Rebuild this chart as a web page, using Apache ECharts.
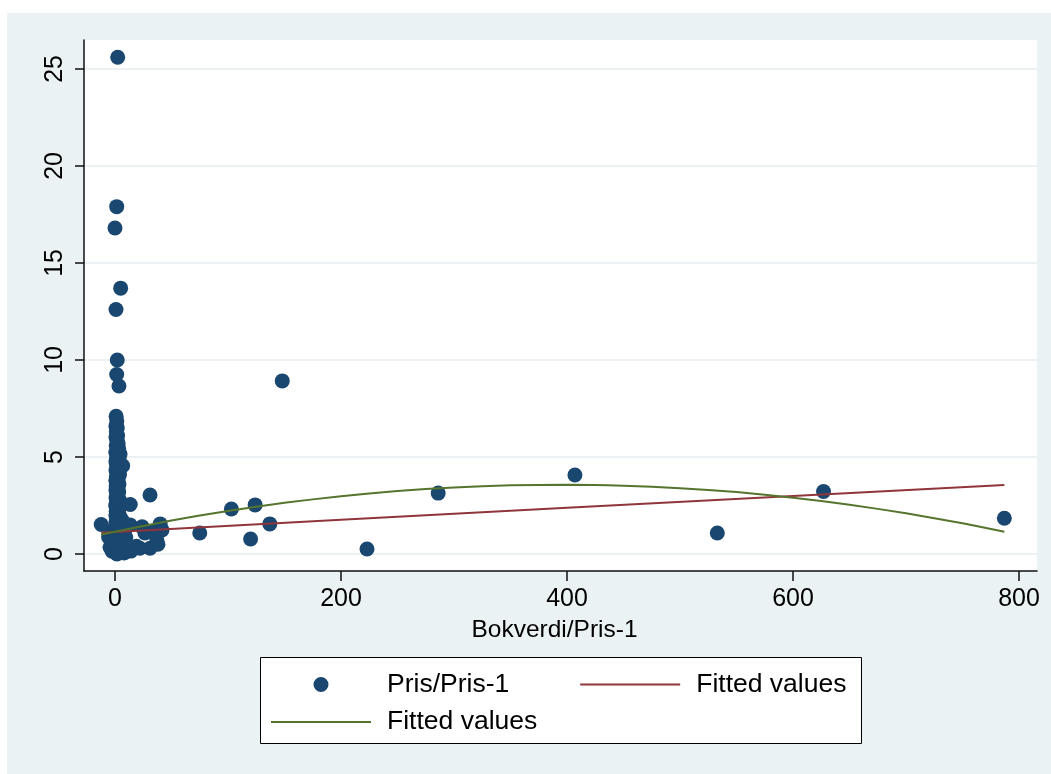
<!DOCTYPE html>
<html>
<head>
<meta charset="utf-8">
<script src="https://cdn.jsdelivr.net/npm/echarts@6/dist/echarts.min.js"></script>
<style>
html, body { margin: 0; padding: 0; background: #ffffff; }
#chart { width: 1051px; height: 774px; }
</style>
</head>
<body>
<div id="chart"></div>
<script>
// ---- data ----
const xTicks = [0, 200, 400, 600, 800];
const yTicks = [0, 5, 10, 15, 20, 25];
const xTitle = 'Bokverdi/Pris-1';
const scatterName = 'Pris/Pris-1';
const linFitName = 'Fitted values (linear)';
const quadFitName = 'Fitted values (quadratic)';
const fitLegendLabel = 'Fitted values';

// isolated points (Bokverdi/Pris-1, Pris/Pris-1)
const prisOutliers = [
  [2.4, 25.6], [1.5, 17.9], [0.0, 16.8], [5.0, 13.7], [0.9, 12.6], [2.0, 10.0],
  [1.5, 9.25], [3.5, 8.66], [148, 8.92], [407, 4.07], [286, 3.14], [627, 3.22],
  [787, 1.84], [533, 1.08], [223, 0.26], [137, 1.55], [124, 2.53], [103, 2.32],
  [120, 0.77], [75, 1.08], [31, 3.04], [40, 1.55], [13.5, 2.55], [-12.2, 1.52]
];
// dense column of observations near zero
const prisColumn = [
  [1.0, 7.1], [1.6, 6.85], [0.8, 6.6], [2.0, 6.5], [1.2, 6.3], [2.3, 6.1], [0.9, 6.0],
  [1.8, 5.85], [2.8, 5.7], [1.1, 5.6], [3.2, 5.45], [2.0, 5.35], [0.7, 5.25], [4.5, 5.15],
  [2.6, 5.05], [1.3, 4.95], [3.6, 4.85], [0.8, 4.75], [2.2, 4.65], [6.8, 4.55], [1.5, 4.5],
  [3.0, 4.4], [0.9, 4.3], [2.4, 4.2], [4.0, 4.1], [1.2, 4.0], [2.9, 3.9], [0.7, 3.8],
  [1.9, 3.7], [3.5, 3.6], [1.0, 3.5], [2.5, 3.4], [0.8, 3.3], [3.3, 3.2], [1.6, 3.1],
  [2.2, 3.0], [0.9, 2.9], [3.7, 2.8], [1.4, 2.7], [2.7, 2.6], [0.6, 2.5], [2.0, 2.4],
  [3.4, 2.3], [1.1, 2.2], [2.6, 2.1], [0.8, 2.0], [4.2, 1.95], [1.7, 1.9], [3.0, 1.8],
  [1.0, 1.7], [2.3, 1.6], [0.7, 1.5], [3.8, 1.45], [1.5, 1.4], [2.8, 1.3], [0.9, 1.2],
  [2.0, 1.1], [3.5, 1.0], [1.2, 0.95], [2.5, 0.85], [0.6, 0.8], [1.8, 0.7], [3.2, 0.6],
  [1.0, 0.55], [2.2, 0.45], [0.8, 0.35], [2.9, 0.3], [1.5, 0.2], [0.6, 0.12], [2.4, 0.08],
  [1.1, 0.04]
];
// small cluster at the bottom left
const prisBottom = [
  [-5.7, 0.88], [-2.6, 0.15], [-1.8, 1.19], [-4.4, 0.35], [6.2, 1.75], [8.8, 1.24],
  [8.0, 0.05], [9.5, 0.85], [14.0, 0.15], [13.3, 1.5], [5.0, 0.5], [1.8, 0.0],
  [24.0, 1.4], [26.5, 1.08], [22.0, 0.3], [31.0, 0.3], [37.0, 0.72], [41.6, 1.24],
  [38.0, 0.5], [19.0, 0.4], [35.0, 1.2]
];

// linear fit line (read at its ends and along it)
const linFitX = [-12.2, 200, 400, 600, 787];
const linFitY = [1.10, 1.76, 2.38, 2.99, 3.56];
// quadratic fit curve
const quadFitX = [-12.2, 0, 50, 100, 150, 200, 250, 300, 350, 400, 450, 500, 550, 600, 650, 700, 750, 787];
const quadFitY = [1.00, 1.15, 1.73, 2.22, 2.64, 2.98, 3.25, 3.43, 3.54, 3.57, 3.52, 3.39, 3.19, 2.90, 2.54, 2.10, 1.58, 1.15];

// ---- chart ----
const FONT = '"Liberation Sans", Arial, Helvetica, sans-serif';
const navy = '#1A476F', maroon = '#90353B', green = '#55752F';
// legend keys: a 100px wide line, and a dot centred in a 100px wide key area
const lineKeyIcon = 'path://M0,6.5H100V8.5H0Z';
const dotKeyIcon = 'path://M0,7.5L0.001,7.5ZM100,7.5L99.999,7.5ZM42.5,7.5A7.5,7.5,0,1,0,57.5,7.5A7.5,7.5,0,1,0,42.5,7.5Z';

const scatterData = prisColumn.concat(prisBottom, prisOutliers);
const linData = linFitX.map((x, i) => [x, linFitY[i]]);
const quadData = quadFitX.map((x, i) => [x, quadFitY[i]]);

const legendCommon = {
  orient: 'horizontal',
  padding: 0,
  itemWidth: 100,
  itemHeight: 15,
  itemGap: 71,
  selectedMode: false,
  formatter: name => (name === scatterName ? name : fitLegendLabel),
  textStyle: { fontFamily: FONT, fontSize: 26.5, color: '#000', padding: [0, 0, 0, 11] }
};

const chart = echarts.init(document.getElementById('chart'), null, { renderer: 'canvas' });
chart.setOption({
  animation: false,
  textStyle: { fontFamily: FONT },
  graphic: [
    { type: 'rect', left: 7, top: 13, z: -100, silent: true,
      shape: { width: 1044, height: 761 }, style: { fill: '#EAF2F3' } },
    { type: 'rect', left: 260, top: 657, z: 1, silent: true,
      shape: { width: 601, height: 86 }, style: { fill: '#ffffff', stroke: '#000', lineWidth: 1 } }
  ],
  grid: {
    left: 84, top: 40, width: 953, height: 531,
    show: true, backgroundColor: '#ffffff', borderWidth: 0
  },
  xAxis: {
    type: 'value', min: -27.43, max: 815.9,
    name: xTitle, nameLocation: 'middle', nameGap: 47,
    nameTextStyle: { fontFamily: FONT, fontSize: 24.5, color: '#000', padding: [0, 12, 0, 0] },
    axisLine: { show: true, onZero: false, lineStyle: { color: '#111', width: 1.5 } },
    axisTick: { show: true, customValues: xTicks, length: 10, lineStyle: { color: '#111', width: 1.5 } },
    axisLabel: { customValues: xTicks, fontSize: 25, color: '#000', margin: 16, fontFamily: FONT },
    splitLine: { show: false }
  },
  yAxis: {
    type: 'value', min: -0.876, max: 26.49,
    axisLine: { show: true, onZero: false, lineStyle: { color: '#111', width: 1.5 } },
    axisTick: { show: true, customValues: yTicks, length: 9, lineStyle: { color: '#111', width: 1.5 } },
    axisLabel: { customValues: yTicks, rotate: 90, fontSize: 25, color: '#000', margin: 16, fontFamily: FONT },
    splitLine: { show: true, lineStyle: { color: '#E6EEF0', width: 1.5 } }
  },
  legend: [
    Object.assign({}, legendCommon, {
      left: 271, top: 671,
      data: [{ name: scatterName, icon: dotKeyIcon }, { name: linFitName, icon: lineKeyIcon }]
    }),
    Object.assign({}, legendCommon, {
      left: 271, top: 708.5,
      data: [{ name: quadFitName, icon: lineKeyIcon }]
    })
  ],
  series: [
    {
      name: scatterName, type: 'scatter', data: scatterData,
      symbol: 'circle', symbolSize: 15,
      itemStyle: { color: navy, opacity: 1 }, emphasis: { disabled: true }
    },
    {
      name: linFitName, type: 'line', data: linData, showSymbol: false, symbol: 'none',
      lineStyle: { color: maroon, width: 2 }, itemStyle: { color: maroon }, emphasis: { disabled: true }
    },
    {
      name: quadFitName, type: 'line', data: quadData, showSymbol: false, symbol: 'none',
      smooth: 0.2,
      lineStyle: { color: green, width: 2 }, itemStyle: { color: green }, emphasis: { disabled: true }
    }
  ]
});
</script>
</body>
</html>
